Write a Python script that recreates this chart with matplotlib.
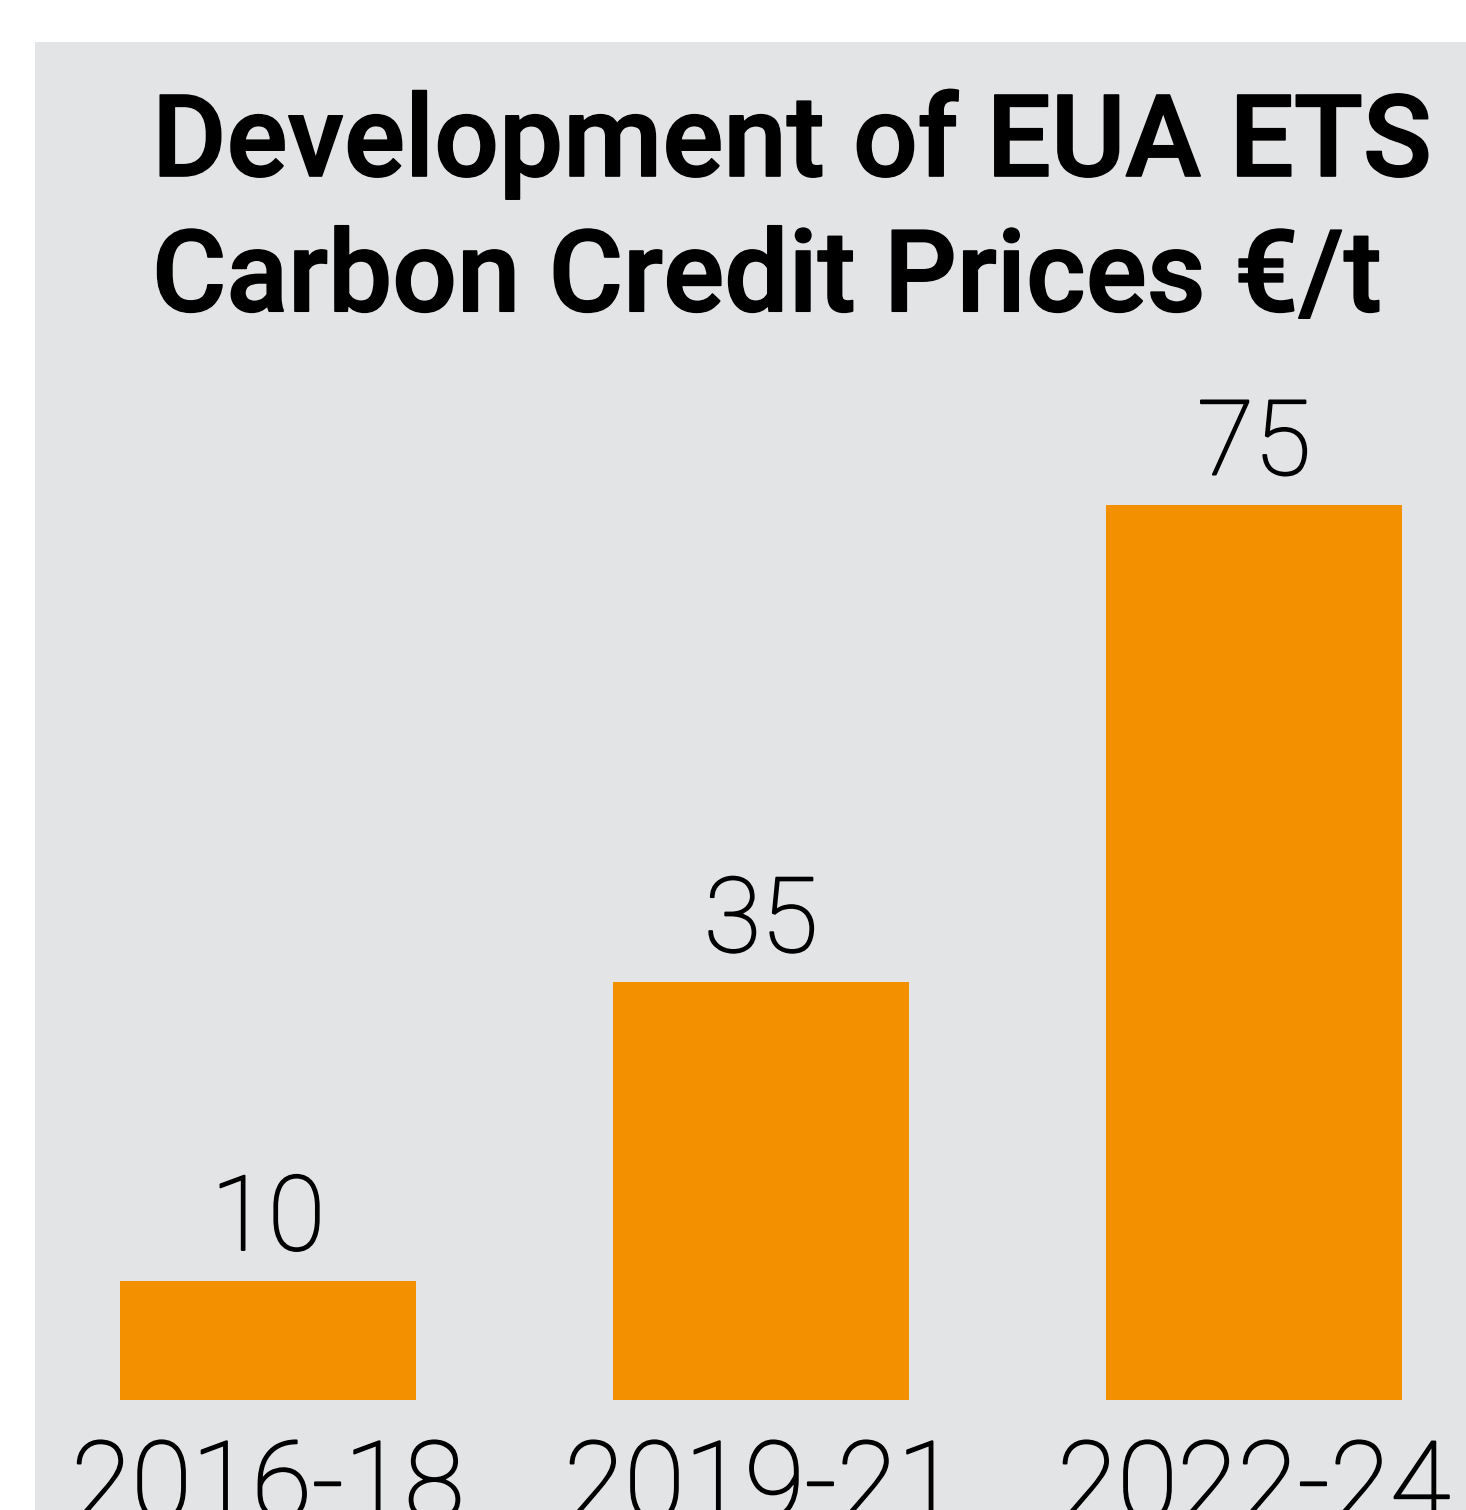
import matplotlib
matplotlib.use("Agg")
import matplotlib.pyplot as plt
import matplotlib.patheffects as pe
from matplotlib.patches import Rectangle

categories = ["2016-18", "2019-21", "2022-24"]
values = [10, 35, 75]
title = "Development of EUA ETS\nCarbon Credit Prices €/t"

W, H = 1466, 1510
fig = plt.figure(figsize=(W / 100, H / 100), dpi=100, facecolor="white")

gray = "#e3e4e6"
orange = "#f39000"
fig.patches.append(Rectangle((35 / W, 0), 1 - 35 / W, 1 - 42 / H,
                             transform=fig.transFigure, facecolor=gray,
                             edgecolor="none", zorder=-5))

bottom_px = 1400
top_px = 42
ax = fig.add_axes([0, (H - bottom_px) / H, 1, (bottom_px - top_px) / H], zorder=2)
ax.set_facecolor("none")
spacing = 493.0
xmin = -268.0 / spacing
ax.set_xlim(xmin, xmin + W / spacing)
ax.set_ylim(0, (bottom_px - top_px) / 11.93)

x = list(range(len(categories)))
bars = ax.bar(x, values, width=0.6, color=orange, zorder=2)

thicken = [pe.withStroke(linewidth=1.4, foreground="black")]
light = dict(family=["Roboto", "DejaVu Sans"], weight="light")
for xi, v in zip(x, values):
    ax.annotate(str(v), (xi, v), xytext=(0, 7), textcoords="offset points",
                ha="center", va="bottom", fontsize=75, color="black",
                path_effects=thicken, **light)

ax.set_xticks(x)
ax.set_xticklabels(categories, fontsize=79, color="black", **light)
for lbl in ax.get_xticklabels():
    lbl.set_path_effects(thicken)
ax.tick_params(axis="x", length=0, pad=27)
ax.set_yticks([])
for s in ax.spines.values():
    s.set_visible(False)

fig.text(152 / W, 1 - 90 / H, title, ha="left", va="top", fontsize=82,
         fontweight="medium", family=["Roboto", "DejaVu Sans"],
         linespacing=1.32, color="black", zorder=3,
         path_effects=[pe.withStroke(linewidth=1.2, foreground="black")])

fig.savefig("out.png", dpi=100, facecolor="white")
